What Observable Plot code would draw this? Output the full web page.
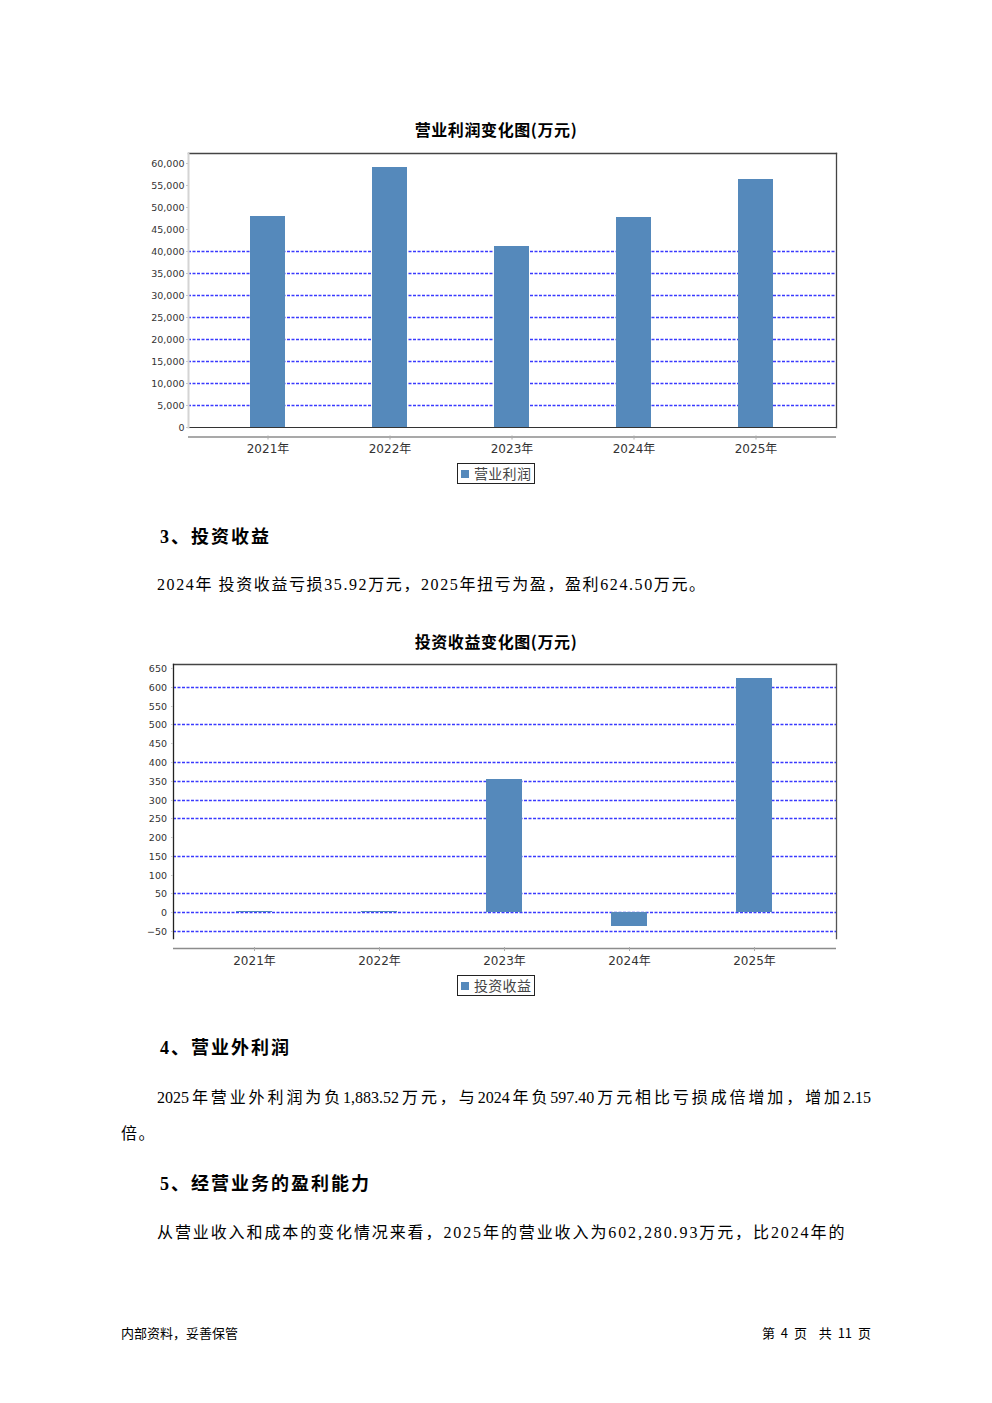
<!DOCTYPE html>
<html><head><meta charset="utf-8">
<script src="https://cdn.jsdelivr.net/npm/d3@7"></script>
<script src="https://cdn.jsdelivr.net/npm/@observablehq/plot@0.6"></script>
<style>
body{margin:0;background:#fff;}
#page{position:relative;width:992px;height:1403px;background:#fff;overflow:hidden;font-family:"Liberation Serif","Noto Sans CJK SC",serif;color:#000;}
.abs{position:absolute;white-space:nowrap;}
.ctitle{left:0;width:992px;text-align:center;font-family:"Noto Sans CJK SC",sans-serif;font-weight:bold;font-size:16px;letter-spacing:0.6px;line-height:20px;}
.h{left:160px;font-size:18px;font-weight:bold;line-height:24px;letter-spacing:2px;}
.p{font-size:16px;line-height:20px;letter-spacing:1.6px;}
.legend{border:1.5px solid #222;box-sizing:border-box;width:78px;height:21px;font-family:"Noto Sans CJK SC",sans-serif;font-size:14px;line-height:18px;color:#444;}
.legend span.sw{position:absolute;left:3px;top:6px;width:8px;height:8px;background:#5589bb;}
.legend span.tx{position:absolute;left:16px;top:0px;letter-spacing:0.3px;}
.foot{font-family:"Noto Sans CJK SC",sans-serif;font-size:13px;line-height:16px;white-space:pre;}
.chart{position:absolute;left:0;top:0;}
</style>
</head>
<body>
<div id="page">
  <div class="abs ctitle" style="top:119px;">营业利润变化图(万元)</div>
  <div id="c1" class="chart" style="top:140px;"></div>
  <div class="abs legend" style="left:457px;top:463px;"><span class="sw"></span><span class="tx">营业利润</span></div>

  <div class="abs h" style="top:525px;">3、投资收益</div>
  <div class="abs p" style="left:157px;top:575px;">2024年 投资收益亏损35.92万元，2025年扭亏为盈，盈利624.50万元。</div>

  <div class="abs ctitle" style="top:631px;">投资收益变化图(万元)</div>
  <div id="c2" class="chart" style="top:650px;"></div>
  <div class="abs legend" style="left:457px;top:975px;"><span class="sw"></span><span class="tx">投资收益</span></div>

  <div class="abs h" style="top:1036px;">4、营业外利润</div>
  <div class="abs p" style="left:157px;top:1088px;width:714px;text-align:justify;text-align-last:justify;letter-spacing:0;">2025年营业外利润为负1,883.52万元，与2024年负597.40万元相比亏损成倍增加，增加2.15</div>
  <div class="abs p" style="left:121px;top:1124px;">倍。</div>

  <div class="abs h" style="top:1172px;">5、经营业务的盈利能力</div>
  <div class="abs p" style="left:157px;top:1223px;letter-spacing:1.9px;">从营业收入和成本的变化情况来看，2025年的营业收入为602,280.93万元，比2024年的</div>

  <div class="abs foot" style="left:121px;top:1325px;">内部资料，妥善保管</div>
  <div class="abs foot" style="left:671px;top:1325px;width:200px;text-align:right;word-spacing:3px;">第 4 页  共 11 页</div>
</div>
<script>
// ---- data ----
const years = ["2021年", "2022年", "2023年", "2024年", "2025年"];
const operatingProfit = [48000, 59200, 41200, 47800, 56400];
const investmentIncome = [4, 3.5, 355, -35.92, 624.5];
const opTicks = [0, 5000, 10000, 15000, 20000, 25000, 30000, 35000, 40000, 45000, 50000, 55000, 60000];
const opGrid = [5000, 10000, 15000, 20000, 25000, 30000, 35000, 40000];
const invTicks = [-50, 0, 50, 100, 150, 200, 250, 300, 350, 400, 450, 500, 550, 600, 650];
const invGrid = [-50, 0, 50, 150, 250, 300, 350, 400, 500, 600];

const BAR = "#5589bb";
const GRID = "#3a3aff";
const fmt = d3.format(",");

function makeChart({values, domain, ticks, grid, mLeft, mTop, plotH, axisGap, labelPad, tickPad, frameSides, zeroLine}) {
  const data = years.map((y, i) => ({year: y, value: values[i]}));
  const marks = [
    Plot.ruleY(grid, {stroke: GRID, strokeWidth: 1.4, strokeDasharray: "3,1.5"}),
    Plot.barY(data, {x: "year", y: "value", fill: BAR}),
  ];
  if (zeroLine) marks.push(Plot.ruleY([0], {stroke: "#333", strokeWidth: 1.2}));
  for (const s of frameSides) marks.push(Plot.frame({anchor: s.side, stroke: s.color, strokeWidth: s.w}));
  marks.push(
    Plot.ruleY([domain[0]], {dy: axisGap, stroke: "#8c8c8c", strokeWidth: 1.5}),
    Plot.ruleX(years, {x: d => d, y1: () => domain[0], y2: () => domain[0], insetTop: 2, insetBottom: 2, dy: axisGap + 1, stroke: "#aaa"}),
    Plot.axisX({tickSize: 0, tickPadding: labelPad, fontSize: 12, fill: "#333", fontFamily: "DejaVu Sans, Noto Sans CJK SC, sans-serif"}),
    Plot.axisY({ticks: ticks, tickFormat: fmt, tickSize: 2, tickPadding: tickPad, stroke: "#c8c8c8", fill: "#333", fontSize: 9.5, fontFamily: "DejaVu Sans, sans-serif"})
  );
  return Plot.plot({
    width: 992,
    height: mTop + plotH + 36,
    marginLeft: mLeft,
    marginRight: 992 - 836,
    marginTop: mTop,
    marginBottom: 36,
    style: {background: "transparent", overflow: "visible"},
    x: {domain: years, paddingInner: 0.71, paddingOuter: 0.49, label: null, axis: null},
    y: {domain: domain, label: null, axis: null, round: true},
    marks
  });
}

document.getElementById("c1").append(makeChart({
  values: operatingProfit,
  domain: [0, 62270],
  ticks: opTicks,
  grid: opGrid,
  mLeft: 188,
  mTop: 13,
  plotH: 274,
  axisGap: 9.5,
  labelPad: 17,
  tickPad: 2,
  zeroLine: true,
  frameSides: [
    {side: "top", color: "#444", w: 1.3},
    {side: "right", color: "#444", w: 1.3},
    {side: "left", color: "#d4d4d4", w: 2}
  ]
}));

document.getElementById("c2").append(makeChart({
  values: investmentIncome,
  domain: [-68.6, 661],
  ticks: invTicks,
  grid: invGrid,
  mLeft: 173,
  mTop: 14,
  plotH: 274,
  axisGap: 10,
  labelPad: 18,
  tickPad: 4.5,
  zeroLine: false,
  frameSides: [
    {side: "top", color: "#444", w: 1.3},
    {side: "right", color: "#555", w: 1.3},
    {side: "left", color: "#222", w: 1.3}
  ]
}));
</script>
</body></html>
